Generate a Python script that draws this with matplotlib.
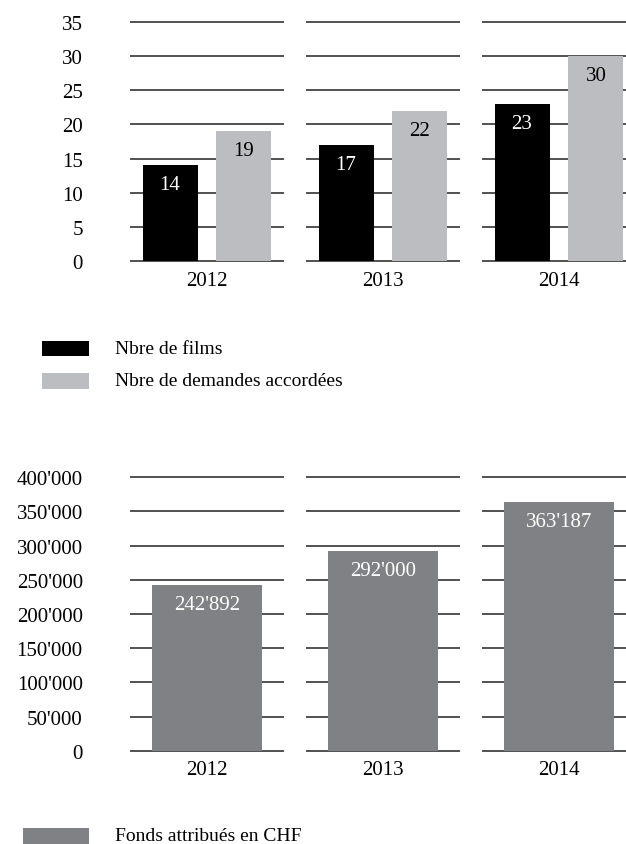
import matplotlib.pyplot as plt
from matplotlib.patches import Rectangle

# data
years = ['2012', '2013', '2014']
films = [14, 17, 23]
demandes = [19, 22, 30]
fonds = [242892, 292000, 363187]

black = '#000000'
light = '#bcbdc0'
dark = '#808184'
grid_col = '#222222'

plt.rcParams['font.family'] = ['Liberation Serif', 'DejaVu Serif']
fs = 15
fs_leg = 14

W, H = 626, 845
fig = plt.figure(figsize=(W / 100, H / 100), dpi=100)


def px_axes(left, right, top, bottom):
    # pixel box (from top-left) -> figure fraction
    return fig.add_axes([left / W, 1 - bottom / H, (right - left) / W, (bottom - top) / H])


def fmt(v):
    return f"{v:,}".replace(",", "'")


def style(ax, ticks, labels):
    x = range(len(years))
    half = 0.4375
    for c in x:
        ax.hlines(ticks, c - half, c + half, color=grid_col, lw=1.1, zorder=1, clip_on=False)
    ax.set_yticks(ticks)
    ax.set_yticklabels(labels, fontsize=fs)
    ax.set_xticks(list(x))
    ax.set_xticklabels(years, fontsize=fs)
    ax.tick_params(axis='y', length=0, pad=34)
    ax.tick_params(axis='x', length=0, pad=7)
    for s in ax.spines.values():
        s.set_visible(False)
    ax.set_xlim(-0.4375, (626 - 207) / 176)


# top chart
ax1 = px_axes(130, 626, 23, 262)
x = list(range(len(years)))
off = 0.21
bw = 0.3125
ax1.bar([i - off for i in x], films, bw, color=black, zorder=2)
ax1.bar([i + off for i in x], demandes, bw, color=light, zorder=2)
ax1.set_ylim(0, 35)
yt = list(range(0, 36, 5))
style(ax1, yt, [str(t) for t in yt])
for i in x:
    ax1.annotate(str(films[i]), (i - off, films[i]), xytext=(0, -14), textcoords='offset points',
                 ha='center', va='center', color='white', fontsize=fs)
    ax1.annotate(str(demandes[i]), (i + off, demandes[i]), xytext=(0, -14), textcoords='offset points',
                 ha='center', va='center', color='black', fontsize=fs)

# bottom chart
ax2 = px_axes(130, 626, 478.3, 751.7)
ax2.bar(x, fonds, 0.63, color=dark, zorder=2)
ax2.set_ylim(0, 400000)
yt2 = list(range(0, 400001, 50000))
style(ax2, yt2, [fmt(t) for t in yt2])
for i in x:
    ax2.annotate(fmt(fonds[i]), (i, fonds[i]), xytext=(0, -14), textcoords='offset points',
                 ha='center', va='center', color='white', fontsize=fs)


# legends
def legend_item(x0, x1, ytop, ybot, color, label, ytext=None):
    fig.add_artist(Rectangle((x0 / W, 1 - ybot / H), (x1 - x0) / W, (ybot - ytop) / H,
                             transform=fig.transFigure, color=color, lw=0))
    yc = (ytop + ybot) / 2 if ytext is None else ytext
    fig.text(115 / W, 1 - yc / H, label, fontsize=fs_leg, va='center', ha='left')


legend_item(42, 89, 342, 357, black, 'Nbre de films')
legend_item(42, 89, 374, 390, light, 'Nbre de demandes accordées')
legend_item(23, 89, 829, 850, dark, 'Fonds attribués en CHF', ytext=837)

fig.savefig('out.png', dpi=100)
